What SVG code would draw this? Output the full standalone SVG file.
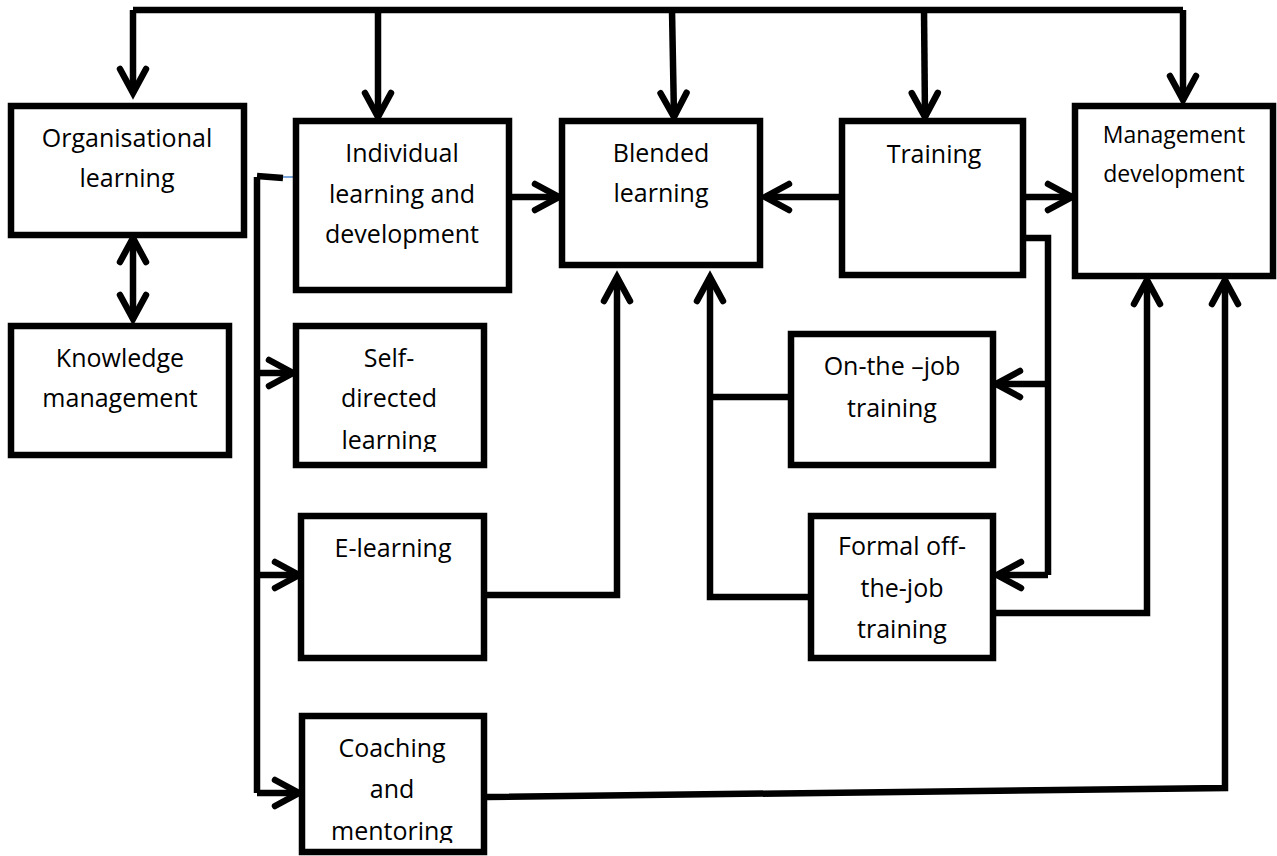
<svg xmlns="http://www.w3.org/2000/svg" width="1277" height="856" viewBox="0 0 1277 856">
  <style>
    .box { fill: #fff; stroke: #000; stroke-width: 6.5; }
    .lbl { font-family: "Open Sans", "Liberation Sans", sans-serif; font-size: 25px; fill: #000; text-anchor: middle; }
    .sm { font-size: 23px; }
    .wire { fill: none; stroke: #000; stroke-width: 6.5; stroke-linejoin: miter; }
    .arr { marker-end: url(#chev); }
  </style>
  <defs>
    <marker id="chev" markerUnits="userSpaceOnUse" orient="auto-start-reverse" markerWidth="40" markerHeight="40" refX="0" refY="0" overflow="visible">
      <path d="M-24,-13 L0,0 L-24,13" fill="none" stroke="#000" stroke-width="6.5" stroke-linecap="round" stroke-linejoin="miter"/>
    </marker>
    <clipPath id="clipSelf"><rect x="296" y="326" width="188" height="126"/></clipPath>
    <clipPath id="clipCoach"><rect x="302" y="716" width="182" height="127"/></clipPath>
  </defs>

  <rect width="1277" height="856" fill="#fff"/>

  <!-- connectors -->
  <g id="connectors">
    <!-- top bus feeding the top row -->
    <path class="wire" d="M133,10 L1183,10"/>
    <path class="wire arr" d="M133,10 L133,93"/>
    <path class="wire arr" d="M378,10 L378,117"/>
    <path class="wire arr" d="M672,10 L674,117"/>
    <path class="wire arr" d="M924,10 L925,117"/>
    <path class="wire arr" d="M1183,10 L1183,100"/>

    <!-- organisational learning <-> knowledge management -->
    <path class="wire" d="M133,238 L133,319" marker-start="url(#chev)" marker-end="url(#chev)"/>

    <!-- into / out of blended learning and management development -->
    <path class="wire arr" d="M512,197 L559,197"/>
    <path class="wire arr" d="M839,197 L765,197"/>
    <path class="wire arr" d="M1026,197 L1072,197"/>

    <!-- training branch to on-the-job and formal training -->
    <path class="wire" d="M1026,238 L1048,238 L1048,575"/>
    <path class="wire arr" d="M1048,384 L996,384"/>
    <path class="wire arr" d="M1048,575 L997,575"/>

    <!-- left bus from individual learning -->
    <path class="wire" d="M257,176 L283,178"/>
    <path d="M283,177 L293,177" stroke="#5b8fd0" stroke-width="1.6"/>
    <path class="wire" d="M257,177 L257,793"/>
    <path class="wire arr" d="M257,373 L293,373"/>
    <path class="wire arr" d="M257,575 L299,575"/>
    <path class="wire arr" d="M257,793 L299,793"/>

    <!-- e-learning up to blended learning -->
    <path class="wire arr" d="M487,595 L617,595 L617,277"/>

    <!-- on-the-job and formal training up to blended learning -->
    <path class="wire arr" d="M808,597 L710,597 L710,277"/>
    <path class="wire" d="M788,397 L710,397"/>

    <!-- formal training up to management development -->
    <path class="wire arr" d="M996,613 L1147,613 L1147,280"/>

    <!-- coaching up to management development -->
    <path class="wire arr" d="M487,797 L1225,788 L1225,280"/>
  </g>

  <g id="org-learning">
    <rect class="box" x="11" y="106" width="233" height="129"/>
    <text class="lbl" x="127" y="147">Organisational</text>
    <text class="lbl" x="127" y="187">learning</text>
  </g>

  <g id="individual">
    <rect class="box" x="296" y="121" width="213" height="169"/>
    <text class="lbl" x="402" y="162">Individual</text>
    <text class="lbl" x="402" y="203">learning and</text>
    <text class="lbl" x="402" y="243">development</text>
  </g>

  <g id="blended">
    <rect class="box" x="562" y="121" width="198" height="144"/>
    <text class="lbl" x="661" y="162">Blended</text>
    <text class="lbl" x="661" y="202">learning</text>
  </g>

  <g id="training">
    <rect class="box" x="842" y="121" width="181" height="154"/>
    <text class="lbl" x="934" y="163">Training</text>
  </g>

  <g id="management">
    <rect class="box" x="1075" y="106" width="198" height="170"/>
    <text class="lbl sm" x="1174" y="143">Management</text>
    <text class="lbl sm" x="1174" y="182">development</text>
  </g>

  <g id="knowledge">
    <rect class="box" x="11" y="326" width="218" height="129"/>
    <text class="lbl" x="120" y="367">Knowledge</text>
    <text class="lbl" x="120" y="407">management</text>
  </g>

  <g id="self-directed">
    <rect class="box" x="296" y="326" width="188" height="139"/>
    <g clip-path="url(#clipSelf)">
      <text class="lbl" x="389" y="367">Self-</text>
      <text class="lbl" x="389" y="407">directed</text>
      <text class="lbl" x="389" y="449">learning</text>
    </g>
  </g>

  <g id="e-learning">
    <rect class="box" x="301" y="516" width="183" height="142"/>
    <text class="lbl" x="393" y="557">E-learning</text>
  </g>

  <g id="coaching">
    <rect class="box" x="302" y="716" width="182" height="136"/>
    <g clip-path="url(#clipCoach)">
      <text class="lbl" x="392" y="757">Coaching</text>
      <text class="lbl" x="392" y="798">and</text>
      <text class="lbl" x="392" y="840">mentoring</text>
    </g>
  </g>

  <g id="on-the-job">
    <rect class="box" x="791" y="334" width="202" height="131"/>
    <text class="lbl" x="892" y="375">On-the –job</text>
    <text class="lbl" x="892" y="417">training</text>
  </g>

  <g id="formal">
    <rect class="box" x="811" y="516" width="182" height="142"/>
    <text class="lbl" x="902" y="555">Formal off-</text>
    <text class="lbl" x="902" y="597">the-job</text>
    <text class="lbl" x="902" y="638">training</text>
  </g>
</svg>
